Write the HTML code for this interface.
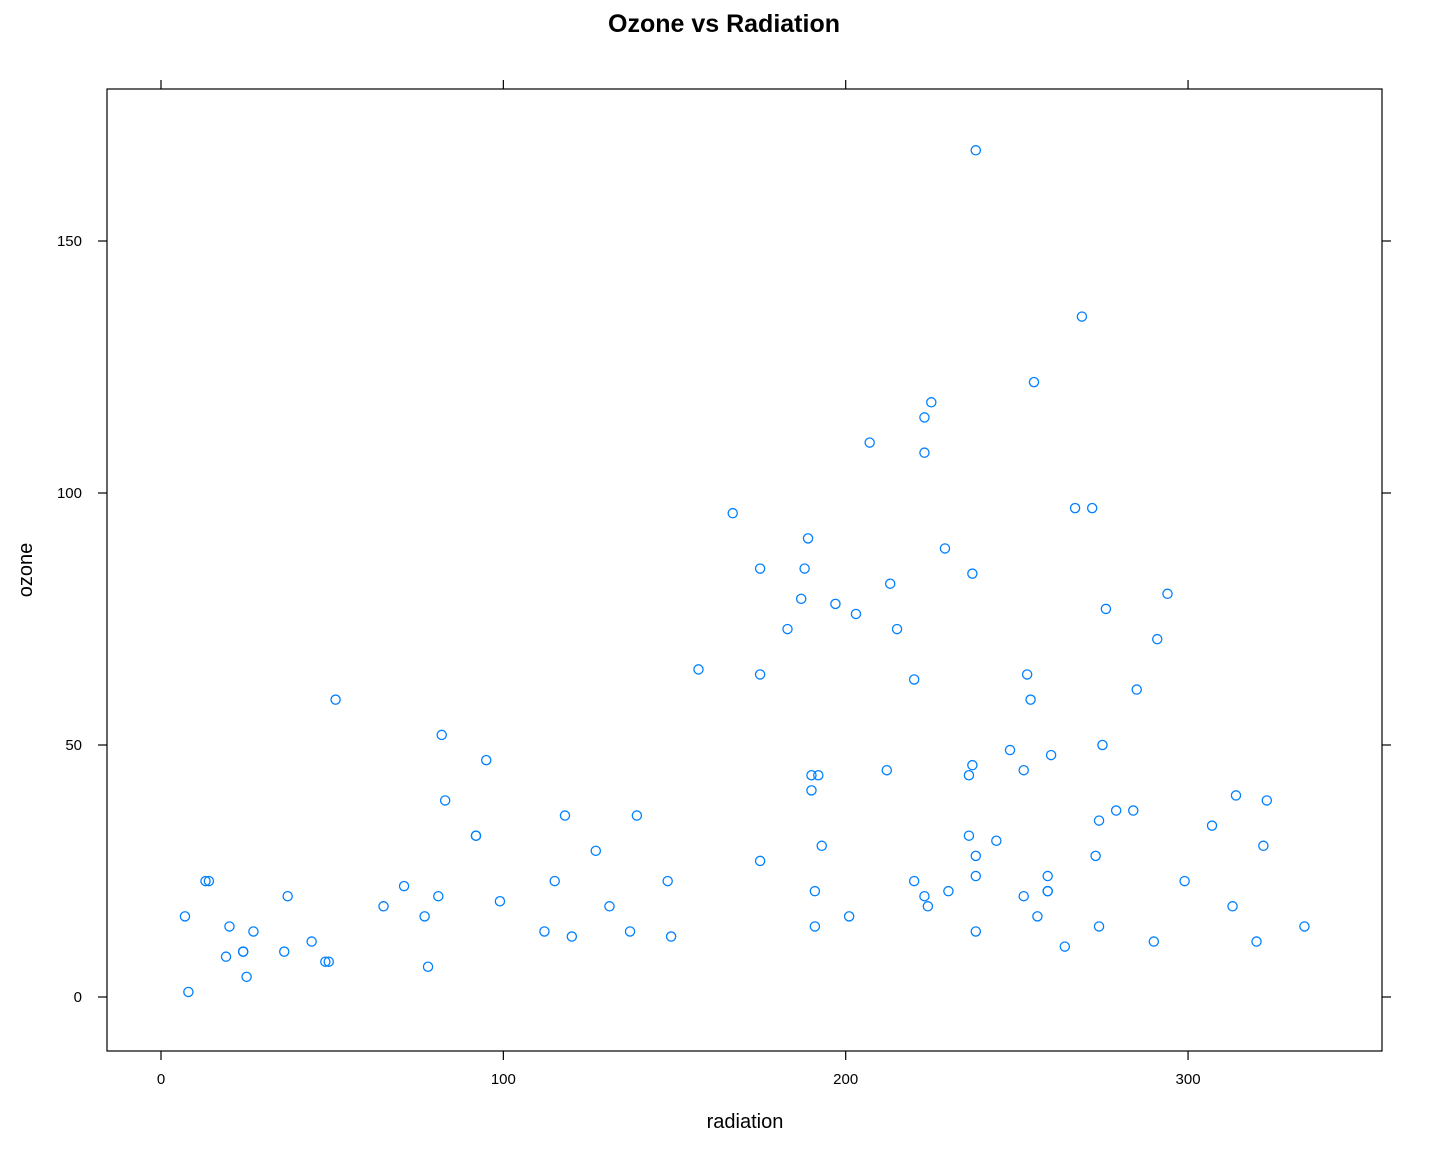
<!DOCTYPE html>
<html><head><meta charset="utf-8"><style>
html,body{margin:0;padding:0;background:#fff;}
svg text{font-family:"Liberation Sans",Arial,sans-serif;}
</style></head><body>
<svg id="chart" width="1440" height="1152" xmlns="http://www.w3.org/2000/svg">
<text x="724" y="32" text-anchor="middle" font-size="25" font-weight="bold">Ozone vs Radiation</text>
<rect x="107" y="89" width="1275" height="962" fill="none" stroke="#000" stroke-width="1.2"/>
<g id="axes"></g>
<g id="points"></g>
<text x="745" y="1128" text-anchor="middle" font-size="20">radiation</text>
<text x="32" y="570" text-anchor="middle" font-size="20" transform="rotate(-90 32 570)">ozone</text>
</svg>
<script>
const radiation=[190,118,149,313,299,99,19,256,290,274,65,334,307,78,322,44,8,320,25,92,13,252,223,279,127,291,323,148,191,284,37,120,137,269,248,236,175,314,276,267,272,175,264,175,48,260,274,285,187,220,7,294,223,81,82,213,275,253,254,83,24,77,255,229,207,192,273,157,71,51,115,244,190,259,36,212,238,215,203,225,237,188,167,197,183,189,95,92,252,220,230,259,236,259,238,24,112,237,224,27,238,201,238,14,139,49,20,193,191,131,223];
const ozone=[41,36,12,18,23,19,8,16,11,14,18,14,34,6,30,11,1,11,4,32,23,45,115,37,29,71,39,23,21,37,20,12,13,135,49,32,64,40,77,97,97,85,10,27,7,48,35,61,79,63,16,80,108,20,52,82,50,64,59,39,9,16,122,89,110,44,28,65,22,59,23,31,44,21,9,45,168,73,76,118,84,85,96,78,73,91,47,32,20,23,21,24,44,21,28,9,13,46,18,13,24,16,13,23,36,7,14,30,14,18,20];
const xTicks=[0,100,200,300];
const yTicks=[0,50,100,150];
const NS="http://www.w3.org/2000/svg";
const sx=v=>161+v*3.4235;
const sy=v=>997-v*5.04;
const axes=document.getElementById('axes');
function mk(tag,attrs,parent){const e=document.createElementNS(NS,tag);for(const k in attrs)e.setAttribute(k,attrs[k]);parent.appendChild(e);return e;}
xTicks.forEach(t=>{
  const x=sx(t);
  const a=mk('line',{x1:x,x2:x,y1:1051,y2:1060,stroke:'#000','stroke-width':1.2},axes);
  
  
  const b=mk('line',{x1:x,x2:x,y1:80,y2:89,stroke:'#000','stroke-width':1.2},axes);
  
  
  const l=mk('text',{x:x,y:1084,'text-anchor':'middle','font-size':15},axes);
  l.textContent=t;
  
  
});
yTicks.forEach(t=>{
  const y=sy(t);
  const a=mk('line',{x1:98,x2:107,y1:y,y2:y,stroke:'#000','stroke-width':1.2},axes);
  
  
  const b=mk('line',{x1:1382,x2:1391,y1:y,y2:y,stroke:'#000','stroke-width':1.2},axes);
  
  
  const l=mk('text',{x:82,y:y+5,'text-anchor':'end','font-size':15},axes);
  l.textContent=t;
  
  
});
const pts=document.getElementById('points');
radiation.forEach((r,i)=>{
  const c=mk('circle',{cx:sx(r),cy:sy(ozone[i]),r:4.6,fill:'none',stroke:'#0080ff','stroke-width':1.3},pts);
  
  
});
</script>
</body></html>
